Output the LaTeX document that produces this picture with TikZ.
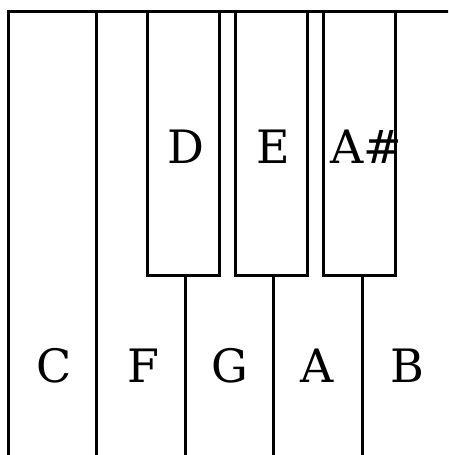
\documentclass[tikz,border=0pt]{standalone}
\usepackage{fontspec}
\setmainfont{DejaVu Serif}
\begin{document}
\begin{tikzpicture}[x=1pt,y=-1pt,
  keyline/.style={draw=black,line width=3pt},
  whitekey/.style={keyline,fill=white,rectangle,minimum width=88.5pt,minimum height=470pt,anchor=north west,inner sep=0pt,outer sep=0pt},
  blackkey/.style={keyline,fill=white,rectangle,minimum width=72pt,minimum height=264pt,anchor=north west,inner sep=0pt,outer sep=0pt},
  keylabel/.style={font=\fontsize{46}{50}\selectfont,inner sep=0pt}]
\useasboundingbox (0,0) rectangle (448,455);
\begin{scope}
\clip (0,0) rectangle (448,455);
\node[whitekey] (kC) at (8,11) {};
\node[whitekey] (kF) at (96.5,11) {};
\node[whitekey] (kG) at (185,11) {};
\node[whitekey] (kA) at (273.5,11) {};
\node[whitekey] (kB) at (362,11) {};
\node[blackkey] (kD) at (147,11) {};
\node[blackkey] (kE) at (235,11) {};
\node[blackkey] (kAs) at (323.5,11) {};
\end{scope}
\node[keylabel] (lD) at (186,147) {D};
\node[keylabel] (lE) at (273,147) {E};
\node[keylabel] (lAs) at (366,147) {A\#};
\node[keylabel] (lC) at (54,366) {C};
\node[keylabel] (lF) at (143,366) {F};
\node[keylabel] (lG) at (230,366) {G};
\node[keylabel] (lA) at (317,366) {A};
\node[keylabel] (lB) at (407,366) {B};
\end{tikzpicture}
\end{document}
